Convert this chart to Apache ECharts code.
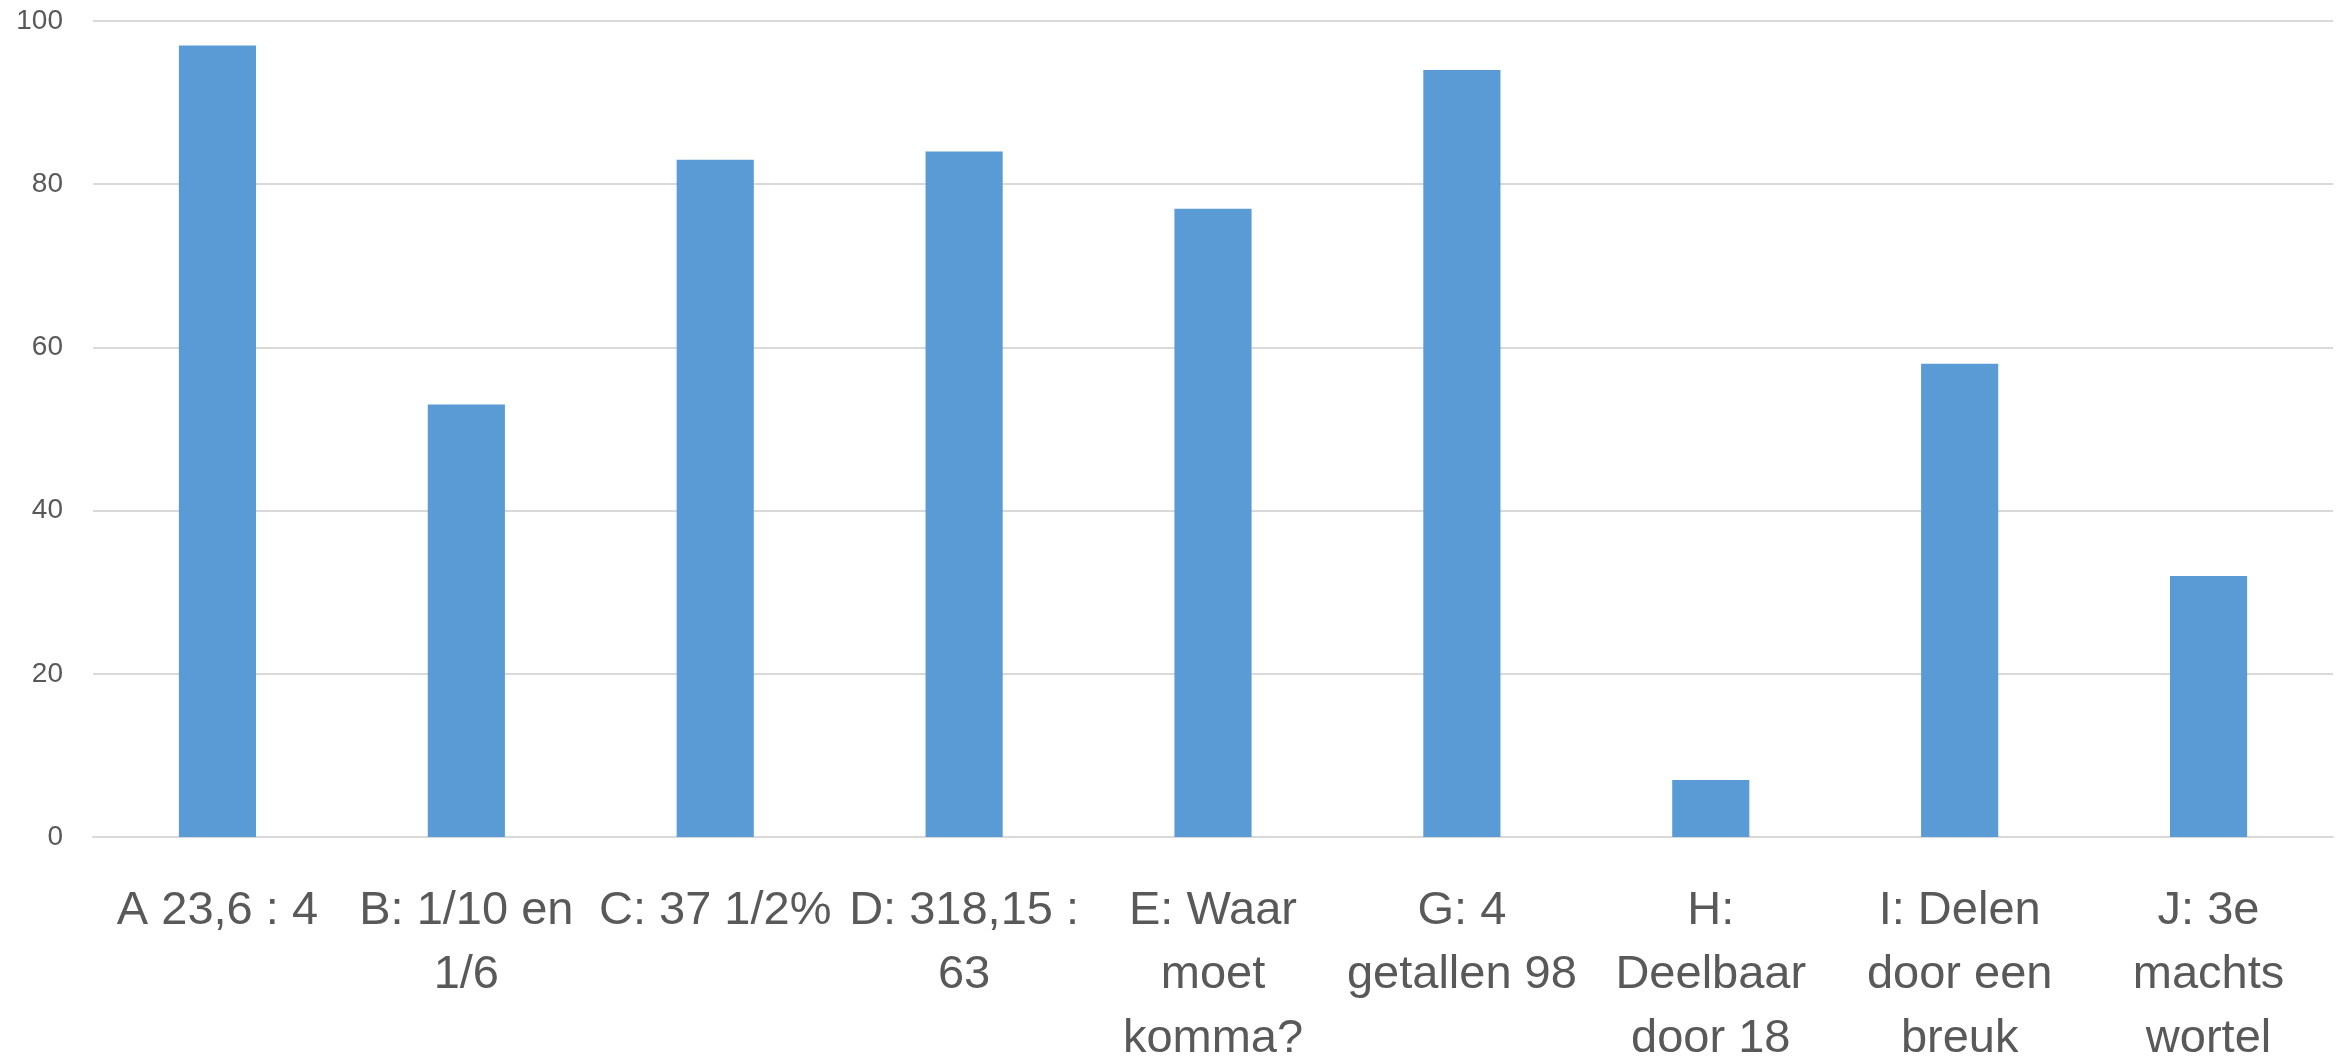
<!DOCTYPE html>
<html>
<head>
<meta charset="utf-8">
<script src="https://cdn.jsdelivr.net/npm/echarts@6/dist/echarts.min.js"></script>
<style>
  html, body { margin: 0; padding: 0; background: #fff; }
  #chart { width: 2344px; height: 1058px; }
</style>
</head>
<body>
<div id="chart"></div>
<script>
const categories = [
  'A 23,6 : 4',
  'B: 1/10 en\n1/6',
  'C: 37 1/2%',
  'D: 318,15 :\n63',
  'E: Waar\nmoet\nkomma?',
  'G: 4\ngetallen 98',
  'H:\nDeelbaar\ndoor 18',
  'I: Delen\ndoor een\nbreuk',
  'J: 3e\nmachts\nwortel'
]
const values = [97, 53, 83, 84, 77, 94, 7, 58, 32]
const yTicks = { min: 0, max: 100, interval: 20 }

const chart = echarts.init(document.getElementById('chart'))
chart.setOption({
  animation: false,
  grid: { left: 93, right: 11, top: 21, bottom: 221, outerBoundsMode: 'none', containLabel: false },
  xAxis: {
    type: 'category',
    data: categories,
    axisLine: { lineStyle: { color: '#d9d9d9', width: 2 } },
    axisTick: { show: false },
    axisLabel: {
      interval: 0,
      margin: 42,
      fontFamily: '"Liberation Sans", sans-serif',
      fontSize: 47,
      lineHeight: 64,
      color: '#595959'
    }
  },
  yAxis: {
    type: 'value',
    min: yTicks.min,
    max: yTicks.max,
    interval: yTicks.interval,
    axisLine: { show: false },
    axisTick: { show: false },
    splitLine: { lineStyle: { color: '#d9d9d9', width: 2 } },
    axisLabel: {
      margin: 30,
      fontFamily: '"Liberation Sans", sans-serif',
      fontSize: 28,
      color: '#595959'
    }
  },
  series: [{
    type: 'bar',
    data: values,
    barWidth: '31%',
    itemStyle: { color: '#5b9bd5' }
  }]
})
</script>
</body>
</html>
